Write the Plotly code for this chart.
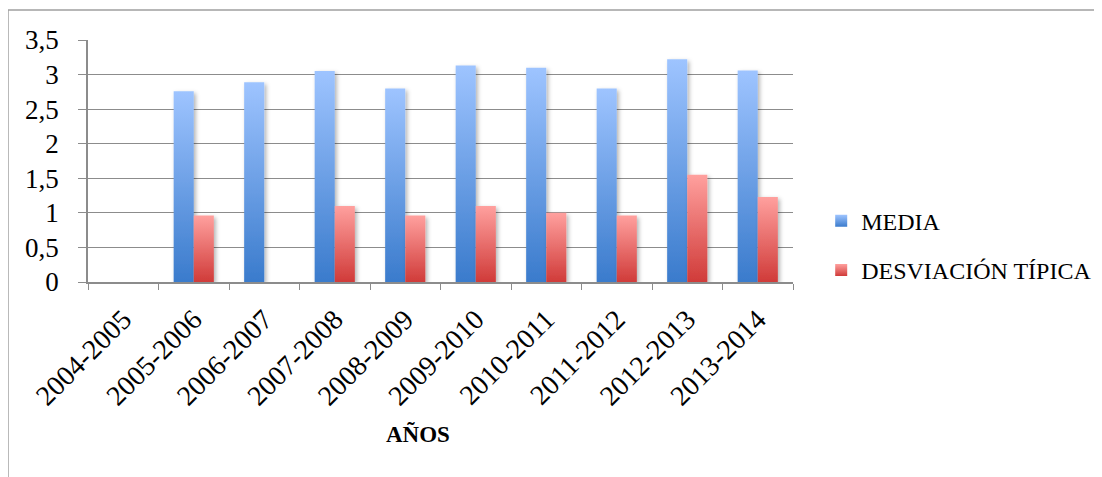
import plotly.graph_objects as go

# academic years and the two series
years = ["2004-2005", "2005-2006", "2006-2007", "2007-2008", "2008-2009",
         "2009-2010", "2010-2011", "2011-2012", "2012-2013", "2013-2014"]
media = [None, 2.76, 2.89, 3.05, 2.80, 3.13, 3.10, 2.80, 3.22, 3.06]
desviacion = [None, 0.96, None, 1.10, 0.96, 1.10, 1.00, 0.96, 1.55, 1.23]

serif = "Liberation Serif"
grey = "#8c8c8c"

fig = go.Figure()
fig.add_trace(go.Bar(x=years, y=media, name="MEDIA", marker_color="#6a9be6",
                     legendgroup="a"))
fig.add_trace(go.Bar(x=years, y=desviacion, name="DESVIACIÓN TÍPICA",
                     marker_color="#e86e6c", legendgroup="b"))

# page body adds an 8px offset, so margins are shifted by that much
fig.update_layout(
    template="none",
    width=1102, height=477,
    margin=dict(l=80, r=317, t=32, b=203),
    paper_bgcolor="white", plot_bgcolor="white",
    font=dict(family=serif, color="black", size=24),
    separators=", ",
    barmode="group", bargap=0.43, bargroupgap=0,
    showlegend=True,
    legend=dict(x=1.040, y=0.15, xanchor="left", yanchor="middle",
                font=dict(family=serif, size=24, color="black"),
                tracegroupgap=15, itemwidth=30),
)
fig.update_xaxes(type="category", tickson="boundaries", ticks="outside",
                 ticklen=6, tickcolor=grey, showline=True, linecolor=grey,
                 linewidth=1.5, showgrid=False, tickangle=-45,
                 tickfont=dict(family=serif, size=28, color="black"),
                 ticklabelstandoff=8)
fig.update_yaxes(range=[0, 3.5], dtick=0.5, ticks="outside", ticklen=8,
                 tickcolor=grey, showline=True, linecolor=grey, linewidth=1.5,
                 showgrid=True, gridcolor=grey, gridwidth=1.2,
                 tickfont=dict(family=serif, size=27, color="black"),
                 ticklabelstandoff=14, zeroline=False)

fig.add_annotation(text="<b>AÑOS</b>", xref="paper", yref="paper",
                   x=0.468, y=-0.632, xanchor="center", yanchor="middle",
                   showarrow=False,
                   font=dict(size=23, family=serif, color="black"))

# outer chart frame that runs off the right and bottom edges
fig.add_shape(type="rect", xref="paper", yref="paper",
              x0=-0.1135, x1=1.5, y0=-0.9, y1=1.124,
              line=dict(color="#a0a0a0", width=1.5), layer="below")

# vertical gradients and a soft shadow on the bars, as in the original chart
post_js = """
var gd = document.getElementById('{plot_id}');
var ns = 'http://www.w3.org/2000/svg';
function addGrad(svg, id, top, bottom) {
  if (document.getElementById(id)) return;
  var defs = svg.querySelector('defs');
  var g = document.createElementNS(ns, 'linearGradient');
  g.setAttribute('id', id);
  g.setAttribute('x1', '0'); g.setAttribute('y1', '0');
  g.setAttribute('x2', '0'); g.setAttribute('y2', '1');
  [['0', top], ['1', bottom]].forEach(function (s) {
    var st = document.createElementNS(ns, 'stop');
    st.setAttribute('offset', s[0]);
    st.setAttribute('stop-color', s[1]);
    g.appendChild(st);
  });
  defs.appendChild(g);
}
function addShadow(svg) {
  if (document.getElementById('barShadow')) return;
  var defs = svg.querySelector('defs');
  var f = document.createElementNS(ns, 'filter');
  f.setAttribute('id', 'barShadow');
  f.setAttribute('x', '-30%'); f.setAttribute('y', '-10%');
  f.setAttribute('width', '170%'); f.setAttribute('height', '130%');
  var d = document.createElementNS(ns, 'feDropShadow');
  d.setAttribute('dx', '2'); d.setAttribute('dy', '2');
  d.setAttribute('stdDeviation', '2');
  d.setAttribute('flood-color', '#000');
  d.setAttribute('flood-opacity', '0.3');
  f.appendChild(d);
  defs.appendChild(f);
}
function paint() {
  var svg = gd.querySelector('svg.main-svg');
  addGrad(svg, 'gradMedia', '#9ec4ff', '#3a7bcc');
  addGrad(svg, 'gradDesv', '#ffa09e', '#d03b39');
  addShadow(svg);
  var ids = ['gradMedia', 'gradDesv'];
  gd.querySelectorAll('g.trace.bars').forEach(function (t, i) {
    t.querySelectorAll('path').forEach(function (p) {
      p.style.fill = 'url(#' + ids[i] + ')';
      p.setAttribute('filter', 'url(#barShadow)');
    });
  });
  gd.querySelectorAll('g.legend g.traces').forEach(function (t, i) {
    t.querySelectorAll('.legendpoints path').forEach(function (p) {
      p.style.fill = 'url(#' + ids[i] + ')';
    });
  });
}
paint();
gd.on('plotly_afterplot', paint);
"""

fig.write_html("out.html", post_script=post_js)
